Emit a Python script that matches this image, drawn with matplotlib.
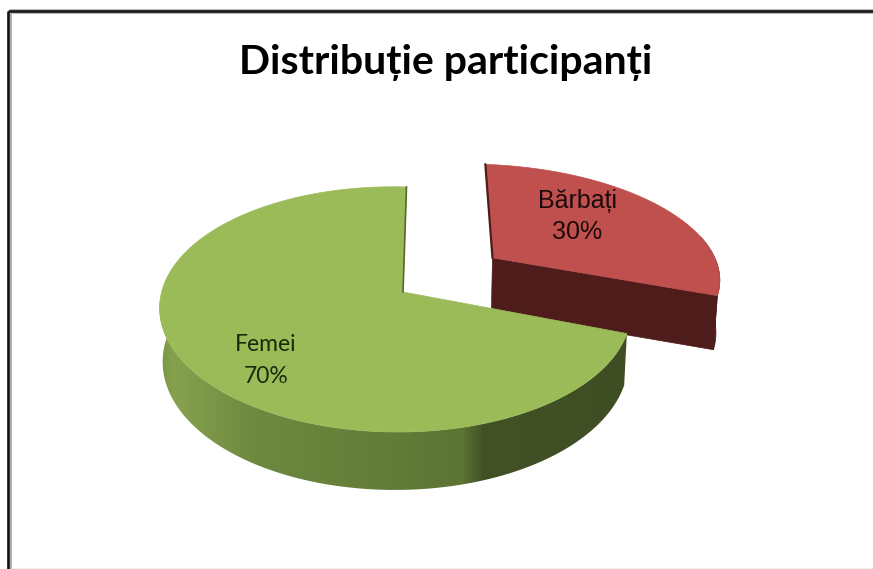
import numpy as np
import matplotlib
matplotlib.use("Agg")
import matplotlib.pyplot as plt
from matplotlib.patches import Polygon

title = "Distribuție participanți"
labels = ["Bărbați", "Femei"]
values = [30, 70]
explode = [0.5, 0.0]

# fake 3d view, coordinates are in picture pixels
CX, CY = 403, 292
RX, RY = 233, 120
DEPTH = 52


def project(u, v, z=0.0):
    den = 1 + 0.143 * v + 0.03 * u + 0.012 * z
    x = CX + (RX * u + 4 * v) / den
    y = CY + (-RY * v + 4 * u + DEPTH * z) / den
    return x, y


def slice_outline(t0, t1, off, z=0.0, su=1.0, sv=1.0):
    t = np.radians(np.linspace(t0, t1, 300))
    u = su * np.cos(t) + off[0]
    v = sv * np.sin(t) + off[1]
    return project(u, v, z)


fig = plt.figure(figsize=(8.73, 5.69), dpi=100)
ax = fig.add_axes([0, 0, 1, 1])

# frame, no line on the right side
ax.plot([9, 9], [569, 12], color="#aaaaaa", lw=3.4, solid_capstyle="butt")
ax.plot([9, 873], [11, 11], color="#aaaaaa", lw=3.4, solid_capstyle="butt")
ax.plot([7.5, 7.5], [569, 10.5], color="#111111", lw=1.8, solid_capstyle="butt")
ax.plot([7.5, 873], [10.5, 10.5], color="#111111", lw=1.8, solid_capstyle="butt")
ax.plot([12, 873], [568, 568], color="#eeeeee", lw=1)

ax.text(446, 62, title, ha="center", va="center", fontsize=29.5,
        fontweight="bold", family="Lato", color="black")

total = sum(values)
angles = 90 - np.cumsum([0] + values) * 360 / total
mid = np.radians((angles[0] + angles[1]) / 2 + 3)
off_red = (explode[0] * np.cos(mid) + 0.012, explode[0] * np.sin(mid))
off_green = (0.0, 0.0)

# red slice, only the front part of the rim shows
dark_red = "#4d1c1b"
red_z = 1.1
xt, yt = slice_outline(angles[0], angles[1], off_red, su=1.06, sv=0.97)
xb, yb = slice_outline(angles[0], angles[1], off_red, red_z, su=1.06, sv=0.97)
x0, y0 = project(off_red[0], off_red[1])
bx0, by0 = project(off_red[0], off_red[1], red_z)
front = np.linspace(angles[0], angles[1], 300) < 15
ax.add_patch(Polygon(list(zip(xt[front], yt[front])) + list(zip(xb[front][::-1], yb[front][::-1])),
                     fc=dark_red, ec=dark_red, lw=0.5))
ax.add_patch(Polygon([(xt[-1], yt[-1]), (xb[-1], yb[-1]), (bx0, by0), (x0, y0)],
                     fc=dark_red, ec=dark_red, lw=0.5))
ax.plot([xt[0], x0], [yt[0], y0], color=dark_red, lw=1.6)
ax.add_patch(Polygon(list(zip(xt, yt)) + [(x0, y0)], fc="#c0504d", ec="#c0504d", lw=0.5))

# green slice, rim is a gradient along x clipped to the rim shape
stops_x = [160, 175, 260, 400, 462, 482, 630]
stops_c = np.array([matplotlib.colors.to_rgb(c) for c in
                    ["#7b9747", "#86a14e", "#6d883f", "#627b38", "#5c7434", "#425226", "#3f4d22"]])
xt, yt = slice_outline(angles[1], angles[2], off_green)
xb, yb = slice_outline(angles[1], angles[2], off_green, 1)
x0, y0 = project(0, 0)
front = np.sin(np.radians(np.linspace(angles[1], angles[2], 300))) < 0.1
rim = Polygon(list(zip(xt[front], yt[front])) + list(zip(xb[front][::-1], yb[front][::-1])),
              fc="none", ec="none", transform=ax.transData)
ax.add_patch(rim)
grad_x = np.arange(150, 640)
grad = np.stack([np.interp(grad_x, stops_x, stops_c[:, i]) for i in range(3)], axis=-1)[None, :, :]
im = ax.imshow(grad, extent=[150, 640, 500, 300], aspect="auto", interpolation="bilinear")
im.set_clip_path(rim)
ax.plot([xt[-1], x0], [yt[-1], y0], color="#55692c", lw=1.2)
ax.add_patch(Polygon(list(zip(xt, yt)) + [(x0, y0)], fc="#9bbb59", ec="#9bbb59", lw=0.5))

# data labels
ax.text(577, 201, labels[0], ha="center", va="center", fontsize=18, family="Liberation Sans", color="#1c0a0a")
ax.text(577, 232, "%d%%" % values[0], ha="center", va="center", fontsize=18, family="Liberation Sans", color="#1c0a0a")
ax.text(266, 344, labels[1], ha="center", va="center", fontsize=16.5, family="Lato", color="#1a2a0c")
ax.text(266, 376, "%d%%" % values[1], ha="center", va="center", fontsize=16.5, family="Lato", color="#1a2a0c")

ax.set_xlim(0, 873)
ax.set_ylim(569, 0)
ax.axis("off")

fig.savefig("out.png", dpi=100)
